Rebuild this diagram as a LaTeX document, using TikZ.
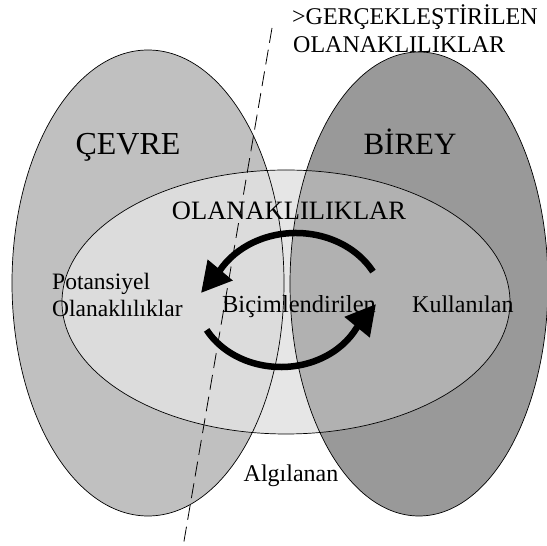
\documentclass[tikz,border=0pt]{standalone}
\usepackage{fontspec}
\setmainfont{Liberation Serif}
\usetikzlibrary{arrows.meta,calc}
\definecolor{cleft}{HTML}{C0C0C0}
\definecolor{cright}{HTML}{999999}
\definecolor{cmid}{HTML}{E6E6E6}
\definecolor{cmidleft}{HTML}{DCDCDC}
\definecolor{cmidright}{HTML}{B1B1B1}
\tikzset{
  outline/.style={draw=black, line width=0.7pt},
  divider/.style={draw=black, line width=0.8pt, dash pattern=on 15pt off 7pt},
  cycarrow/.style={line width=6.5pt, -{Triangle[length=30pt,width=31pt]}},
  txt/.style={inner sep=0pt, anchor=base, text=black},
}
\newcommand{\fs}[1]{\fontsize{#1}{#1}\selectfont}
\begin{document}
\begin{tikzpicture}[x=1pt,y=1pt]
\clip (0,0) rectangle (547,546);
\useasboundingbox (0,0) rectangle (547,546);
% base ellipses
\fill[cleft] (148,263) ellipse[x radius=136pt, y radius=233pt];
\fill[cright] (419,262) ellipse[x radius=129pt, y radius=232pt];
\fill[cmid] (286,244) ellipse[x radius=224pt, y radius=132pt];
\begin{scope}
  \clip (286,244) ellipse[x radius=224pt, y radius=132pt];
  \fill[cmidleft] (148,263) ellipse[x radius=136pt, y radius=233pt];
  \fill[cmidright] (419,262) ellipse[x radius=129pt, y radius=232pt];
\end{scope}
% outlines
\draw[outline] (148,263) ellipse[x radius=136pt, y radius=233pt];
\draw[outline] (419,262) ellipse[x radius=129pt, y radius=232pt];
\draw[outline] (286,244) ellipse[x radius=224pt, y radius=132pt];
% dashed divider
\coordinate (dtop) at (272,518);
\coordinate (dbot) at (183,-1);
\draw[divider] (dtop) -- (dbot);
% cycle arrows
\coordinate (cu) at (296,238);
\coordinate (cl) at (281,251);
\coordinate (tipu) at (201,253);
\coordinate (tipl) at (376,242);
\draw[cycarrow] ($(cu)+(29:88pt and 75pt)$) arc[start angle=29, end angle=150, x radius=88pt, y radius=75pt] -- (tipu);
\draw[cycarrow] ($(cl)+(209:85pt and 72pt)$) arc[start angle=209, end angle=333, x radius=85pt, y radius=72pt] -- (tipl);
% texts
\node[txt, anchor=base west] (g1) at (292,521) {\fs{24}>GERÇEKLEŞTİRİLEN};
\node[txt, anchor=base west] (g2) at (293,493) {\fs{24}OLANAKLILIKLAR};
\node[txt] (cevre) at (128,391) {\fs{32}ÇEVRE};
\node[txt] (birey) at (410,391) {\fs{31}BİREY};
\node[txt] (olan) at (289,326) {\fs{26.5}OLANAKLILIKLAR};
\node[txt, anchor=base west] (pot1) at (52,256) {\fs{23.5}Potansiyel};
\node[txt, anchor=base west] (pot2) at (52,229) {\fs{23.5}Olanaklılıklar};
\node[txt] (bic) at (299,233) {\fs{24.5}Biçimlendirilen};
\node[txt, anchor=base west] (kul) at (412,233) {\fs{24}Kullanılan};
\node[txt] (alg) at (291,64) {\fs{24}Algılanan};
\end{tikzpicture}
\end{document}
